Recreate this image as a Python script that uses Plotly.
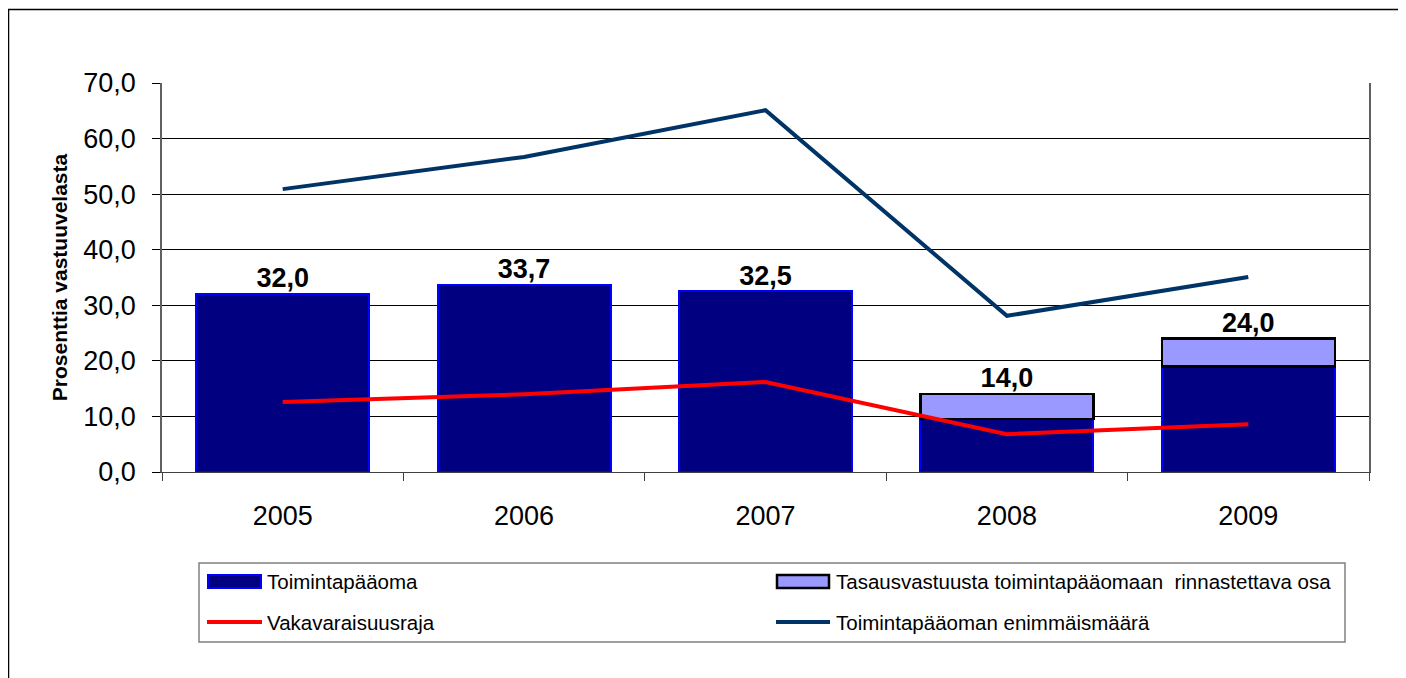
import plotly.graph_objects as go

# data
vuodet = ["2005", "2006", "2007", "2008", "2009"]
toimintapaaoma = [32.0, 33.7, 32.5, 9.5, 19.0]
tasausvastuu = [None, None, None, 4.5, 5.0]
vakavaraisuusraja = [12.6, 14.0, 16.2, 6.8, 8.6]
enimmaismaara = [50.9, 56.7, 65.1, 28.1, 35.1]
y_ticks = [0, 10, 20, 30, 40, 50, 60, 70]

nimet = ["Toimintapääoma", "Tasausvastuusta toimintapääomaan  rinnastettava osa",
         "Vakavaraisuusraja", "Toimintapääoman enimmäismäärä"]

yhteensa = [a + (b or 0) for a, b in zip(toimintapaaoma, tasausvastuu)]

# plot area in page pixels (page has 8px body margin)
PX0, PX1, PY0, PY1 = 162, 1369, 83, 472


def px(x):
    return (x - PX0) / (PX1 - PX0)


def py(y):
    return (PY1 - y) / (PY1 - PY0)


fig = go.Figure()
fig.add_trace(go.Bar(
    name=nimet[0], x=vuodet, y=toimintapaaoma,
    marker=dict(color="#000080", line=dict(color="#0000FF", width=2)),
))
fig.add_trace(go.Bar(
    name=nimet[1], x=vuodet, y=tasausvastuu,
    marker=dict(color="#9999FF", line=dict(color="#000000", width=2.5)),
))
fig.add_trace(go.Scatter(
    name=nimet[2], x=vuodet, y=vakavaraisuusraja, mode="lines",
    line=dict(color="#FF0000", width=4),
))
fig.add_trace(go.Scatter(
    name=nimet[3], x=vuodet, y=enimmaismaara, mode="lines",
    line=dict(color="#003366", width=4),
))
# arvot pylväiden päälle
fig.add_trace(go.Scatter(
    x=vuodet, y=yhteensa, mode="text", texttemplate="<b>%{y:.1f}</b>",
    textposition="top center", textfont=dict(size=27, color="black"),
    hoverinfo="skip",
))

# legend drawn by hand (wide symbols like the original)
shapes = [
    # outer frame
    dict(type="rect", xref="paper", yref="paper", x0=px(8.5), x1=1.2, y0=-0.8, y1=py(9.5),
         line=dict(color="black", width=1.5), layer="below"),
    # legend box
    dict(type="rect", xref="paper", yref="paper", x0=px(199), x1=px(1345), y0=py(642), y1=py(563),
         line=dict(color="#808080", width=1.5)),
    dict(type="rect", xref="paper", yref="paper", x0=px(208), x1=px(261), y0=py(588), y1=py(575),
         fillcolor="#000080", line=dict(color="#0000FF", width=2)),
    dict(type="rect", xref="paper", yref="paper", x0=px(777), x1=px(829), y0=py(588), y1=py(575),
         fillcolor="#9999FF", line=dict(color="black", width=2.5)),
    dict(type="line", xref="paper", yref="paper", x0=px(207), x1=px(262), y0=py(622), y1=py(622),
         line=dict(color="#FF0000", width=4)),
    dict(type="line", xref="paper", yref="paper", x0=px(776), x1=px(830), y0=py(622), y1=py(622),
         line=dict(color="#003366", width=4)),
]
legend_pos = [(265, 581), (834, 581), (265, 622), (834, 622)]
annotations = [
    dict(text=n, xref="paper", yref="paper", x=px(x), y=py(y), xanchor="left", yanchor="middle",
         showarrow=False, font=dict(size=20.5))
    for n, (x, y) in zip(nimet, legend_pos)
]

fig.update_layout(
    width=1398, height=670,
    margin=dict(l=PX0 - 8, r=1406 - PX1, t=PY0 - 8, b=678 - PY1),
    barmode="stack", bargap=0.283,
    separators=", ",
    showlegend=False,
    plot_bgcolor="white", paper_bgcolor="white",
    font=dict(family="Liberation Sans, Arial", color="black"),
    xaxis=dict(
        type="category", tickfont=dict(size=27), tickson="boundaries",
        ticks="outside", ticklen=8, tickcolor="#404040", ticklabelstandoff=20,
        showline=True, linecolor="#404040", linewidth=1, showgrid=False,
    ),
    yaxis=dict(
        range=[0, 70], tickvals=y_ticks, tickformat=".1f", tickfont=dict(size=27),
        ticks="outside", ticklen=8, tickcolor="black", ticklabelstandoff=11,
        showgrid=True, gridcolor="black", gridwidth=1,
        showline=True, linecolor="#606060", linewidth=1.5, mirror=True,
        zeroline=False,
        title=dict(text="<b>Prosenttia vastuuvelasta</b>", font=dict(size=21), standoff=10),
    ),
    shapes=shapes,
    annotations=annotations,
)

fig.write_html("out.html")
